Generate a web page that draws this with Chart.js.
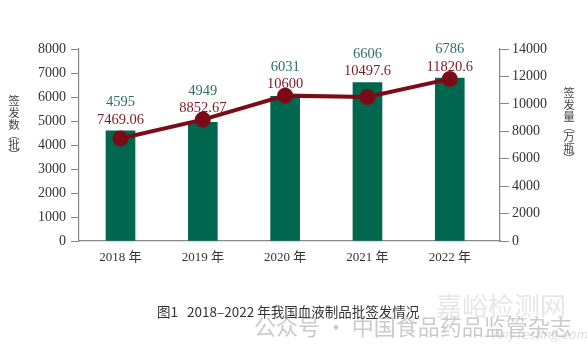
<!DOCTYPE html>
<html>
<head>
<meta charset="utf-8">
<script src="https://cdn.jsdelivr.net/npm/chart.js@4"></script>
<style>
  html, body { margin: 0; padding: 0; background: #fff; }
  #wrap { position: relative; width: 587px; height: 351px; }
  canvas { position: absolute; left: 0; top: 0; }
  .vtitle {
    position: absolute; width: 14px; text-align: center;
    font: 11.5px "Noto Sans CJK SC", sans-serif; color: #444;
  }
  .vtitle span { display: block; height: 12px; line-height: 12px; overflow: visible; }
  .vtitle span.p { height: 8px; line-height: 8px; }
  #caption {
    position: absolute; left: 157px; top: 301px;
    font: 13.5px "Noto Sans CJK SC", sans-serif; color: #333; white-space: pre;
  }
  .wm { position: absolute; white-space: pre; font-family: "Noto Sans CJK SC", sans-serif; }
</style>
</head>
<body>
<div id="wrap">
  <canvas id="chart1" width="587" height="351"></canvas>
  <div class="vtitle" style="left:7px; top:94px;"><span>签</span><span>发</span><span>数</span><span class="p">︵</span><span>批</span><span class="p">︶</span></div>
  <div class="vtitle" style="left:562px; top:86px;"><span>签</span><span>发</span><span>量</span><span class="p">︵</span><span>万</span><span>瓶</span><span class="p">︶</span></div>
  <div id="caption">图1   2018–2022 年我国血液制品批签发情况</div>
  <div class="wm" style="left:254px; top:309px; font-size:22px; color:rgba(150,150,150,0.5);">公众号 · 中国食品药品监管杂志</div>
  <div class="wm" style="left:436px; top:286px; font-size:26px; color:rgba(200,200,200,0.45);">嘉峪检测网</div>
  <div class="wm" style="left:492px; top:324px; font-size:13px; font-style:italic; color:rgba(200,200,200,0.6);">AnyTesting.com</div>
</div>
<script>
const years = ['2018 年', '2019 年', '2020 年', '2021 年', '2022 年'];
const batches = [4595, 4949, 6031, 6606, 6786];
const volumes = [7469.06, 8852.67, 10600, 10497.6, 11820.6];
const volumeLabels = ['7469.06', '8852.67', '10600', '10497.6', '11820.6'];

const barColor = '#00674f';
const lineColor = '#7b0c17';
const serif = '"Liberation Serif", "Noto Sans CJK SC", serif';

// value labels: line value just above the higher of bar/point, bar value above that
const valueLabels = {
  id: 'valueLabels',
  afterDatasetsDraw(chart) {
    const c = chart.ctx;
    const bars = chart.getDatasetMeta(1).data;
    const pts = chart.getDatasetMeta(0).data;
    c.save();
    c.font = '14.5px ' + serif;
    c.textAlign = 'center';
    c.textBaseline = 'middle';
    bars.forEach((b, i) => {
      const p = pts[i];
      const top = Math.min(b.y, p.y);
      const ly = top - 11;
      c.fillStyle = '#7a1a24';
      c.fillText(volumeLabels[i], b.x, ly);
      c.fillStyle = '#2e6e68';
      c.fillText(String(batches[i]), b.x, ly - 17.5);
    });
    c.restore();
  }
};

const ctx1 = document.getElementById('chart1');

new Chart(ctx1, {
  data: {
    datasets: [{
      type: 'line',
      label: '签发量',
      data: volumes.map((v, i) => ({ x: i, y: v })),
      yAxisID: 'y1',
      borderColor: lineColor,
      backgroundColor: lineColor,
      borderWidth: 4,
      pointRadius: 6,
      pointHoverRadius: 6,
      tension: 0,
      order: 0,
    }, {
      type: 'bar',
      label: '签发数',
      data: batches.map((v, i) => ({ x: i, y: v })),
      yAxisID: 'y',
      backgroundColor: barColor,
      barThickness: 29,
      order: 1,
    }],
  },
  options: {
    responsive: false,
    animation: false,
    events: [],
    layout: { padding: { left: 0, right: 0, top: 49, bottom: 80 } },
    plugins: { legend: { display: false }, tooltip: { enabled: false } },
    scales: {
      x: {
        type: 'linear',
        offset: false,
        min: -0.504, max: 4.61,
        afterBuildTicks(s) { s.ticks = years.map((_, i) => ({ value: i })); },
        grid: { display: false, drawTicks: false, offset: false },
        border: { color: '#888', width: 1.2 },
        ticks: { color: '#333', font: { family: serif, size: 13 }, padding: 9,
                 callback: v => years[v] },
        afterFit(s) { s.height = 30; },
      },
      y: {
        position: 'left',
        min: 0, max: 8000,
        ticks: { stepSize: 1000, color: '#333', font: { family: serif, size: 14 }, padding: 5,
                 callback: v => String(v) },
        grid: { drawOnChartArea: false, tickLength: 8, color: '#888' },
        border: { color: '#888', width: 1.2 },
        afterFit(s) { s.width = 79; },
      },
      y1: {
        position: 'right',
        min: 0, max: 14000,
        ticks: { stepSize: 2000, color: '#333', font: { family: serif, size: 14 }, padding: 3,
                 callback: v => String(v) },
        grid: { drawOnChartArea: false, tickLength: 9, color: '#888' },
        border: { color: '#888', width: 1.2 },
        afterFit(s) { s.width = 87; },
      },
    },
  },
  plugins: [valueLabels],
});
</script>
</body>
</html>
